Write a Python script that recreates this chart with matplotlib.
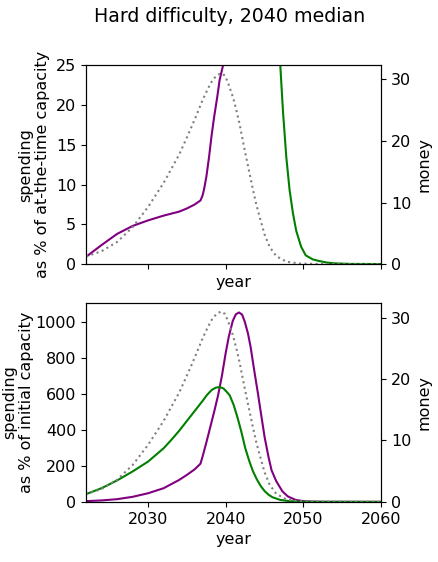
import numpy as np
import matplotlib
matplotlib.use('Agg')
import matplotlib.pyplot as plt

plt.rcParams['font.size'] = 11.5

# money (right axis, same in both panels)
money_years = [2022, 2024, 2026, 2028, 2030, 2032, 2034, 2035, 2036, 2037, 2037.7, 2038.3,
               2038.9, 2039.4, 2039.9, 2040.3, 2040.95, 2041.4, 2041.8, 2042.2, 2042.65,
               2043.1, 2043.5, 2043.95, 2044.4, 2045, 2045.65, 2046.5, 2047.8, 2049.5,
               2052, 2060]
money = [1.25, 2.1, 3.6, 6.0, 9.3, 13.2, 17.8, 20.6, 23.5, 26.6, 28.5, 29.9,
         30.7, 31.0, 30.6, 29.4, 27.0, 24.8, 22.6, 20.0, 17.2,
         14.5, 12.1, 9.6, 7.5, 4.8, 2.8, 1.3, 0.4, 0.1,
         0.02, 0.0]

# top panel: spending as % of at-the-time capacity
top_purple_years = [2022, 2024, 2026, 2028, 2030, 2032, 2034, 2035, 2036, 2036.74, 2037.0,
                    2037.2, 2037.5, 2037.85, 2038.15, 2038.5, 2038.9, 2039.2, 2039.65,
                    2040, 2041]
top_purple = [0.92, 2.4, 3.8, 4.8, 5.5, 6.1, 6.6, 7.0, 7.5, 8.0, 8.6,
              9.4, 11.0, 13.5, 16.0, 18.5, 21.0, 23.1, 25.0,
              27.3, 33]
top_green_years = [2046.6, 2047.02, 2047.36, 2047.79, 2048.22, 2048.65, 2049.07, 2049.7,
                   2050.3, 2051.2, 2052, 2053, 2054, 2056, 2060]
top_green = [36, 25, 19.3, 13.5, 9.3, 6.4, 4.2, 2.2,
             1.1, 0.6, 0.4, 0.2, 0.1, 0.03, 0.01]

# bottom panel: spending as % of initial capacity
bot_purple_years = [2022, 2024, 2026, 2028, 2030, 2032, 2034, 2035, 2036, 2036.74, 2037.0,
                    2037.5, 2038, 2038.5, 2039, 2039.5, 2040, 2040.4, 2040.9, 2041.3,
                    2041.7, 2042.1, 2042.45, 2042.86, 2043.2, 2043.7, 2044.15, 2044.5,
                    2045, 2045.5, 2045.9, 2046.5, 2047.3, 2048, 2049, 2050, 2051, 2053, 2060]
bot_purple = [4, 8, 15, 28, 48, 76, 122, 150, 181, 212, 250,
              330, 415, 500, 590, 700, 830, 920, 1005, 1042,
              1052, 1040, 1000, 935, 860, 720, 600, 500,
              360, 250, 175, 115, 58, 30, 11, 4, 1.5, 0.3, 0]
bot_green_years = [2022, 2024, 2026, 2028, 2030, 2032, 2033, 2034, 2035, 2036, 2037,
                   2037.6, 2038.2, 2038.7, 2039.2, 2039.7, 2040.1, 2040.5, 2041, 2041.5,
                   2042, 2042.5, 2043, 2043.5, 2044, 2044.5, 2045, 2045.5, 2046, 2047,
                   2048, 2049, 2050, 2052, 2060]
bot_green = [43, 76, 119, 169, 224, 298, 345, 395, 450, 505, 560,
             595, 622, 634, 638, 630, 612, 592, 540, 470,
             390, 300, 230, 170, 125, 88, 60, 40, 26, 11,
             5, 2, 1, 0.3, 0]

fig = plt.figure(figsize=(4.39, 5.62), dpi=100)
fig.suptitle('Hard difficulty, 2040 median', fontsize=13.7, x=0.522, y=0.987)

ax1 = fig.add_axes([0.196, 0.530, 0.672, 0.354])
ax1.plot(top_purple_years, top_purple, color='purple')
ax1.plot(top_green_years, top_green, color='green')
ax1.set_ylim(0, 25)
ax1.set_xlim(2022, 2060)
ax1.set_xticks([2030, 2040, 2050, 2060])
ax1.tick_params(axis='x', labelbottom=False)
ax1.set_xlabel('year')
ax1.set_ylabel('spending\nas % of at-the-time capacity')
ax1r = ax1.twinx()
ax1r.plot(money_years, money, color='grey', ls=':')
ax1r.set_ylim(0, 32.3)
ax1r.set_yticks([0, 10, 20, 30])
ax1r.set_ylabel('money')

ax2 = fig.add_axes([0.196, 0.107, 0.672, 0.354])
ax2.plot(bot_purple_years, bot_purple, color='purple')
ax2.plot(bot_green_years, bot_green, color='green')
ax2.set_ylim(0, 1105)
ax2.set_xlim(2022, 2060)
ax2.set_xticks([2030, 2040, 2050, 2060])
ax2.set_yticks([0, 200, 400, 600, 800, 1000])
ax2.set_xlabel('year')
ax2.set_ylabel('spending\nas % of initial capacity', labelpad=1)
ax2r = ax2.twinx()
ax2r.plot(money_years, money, color='grey', ls=':')
ax2r.set_ylim(0, 32.4)
ax2r.set_yticks([0, 10, 20, 30])
ax2r.set_ylabel('money')

fig.savefig('out.png', dpi=100)
